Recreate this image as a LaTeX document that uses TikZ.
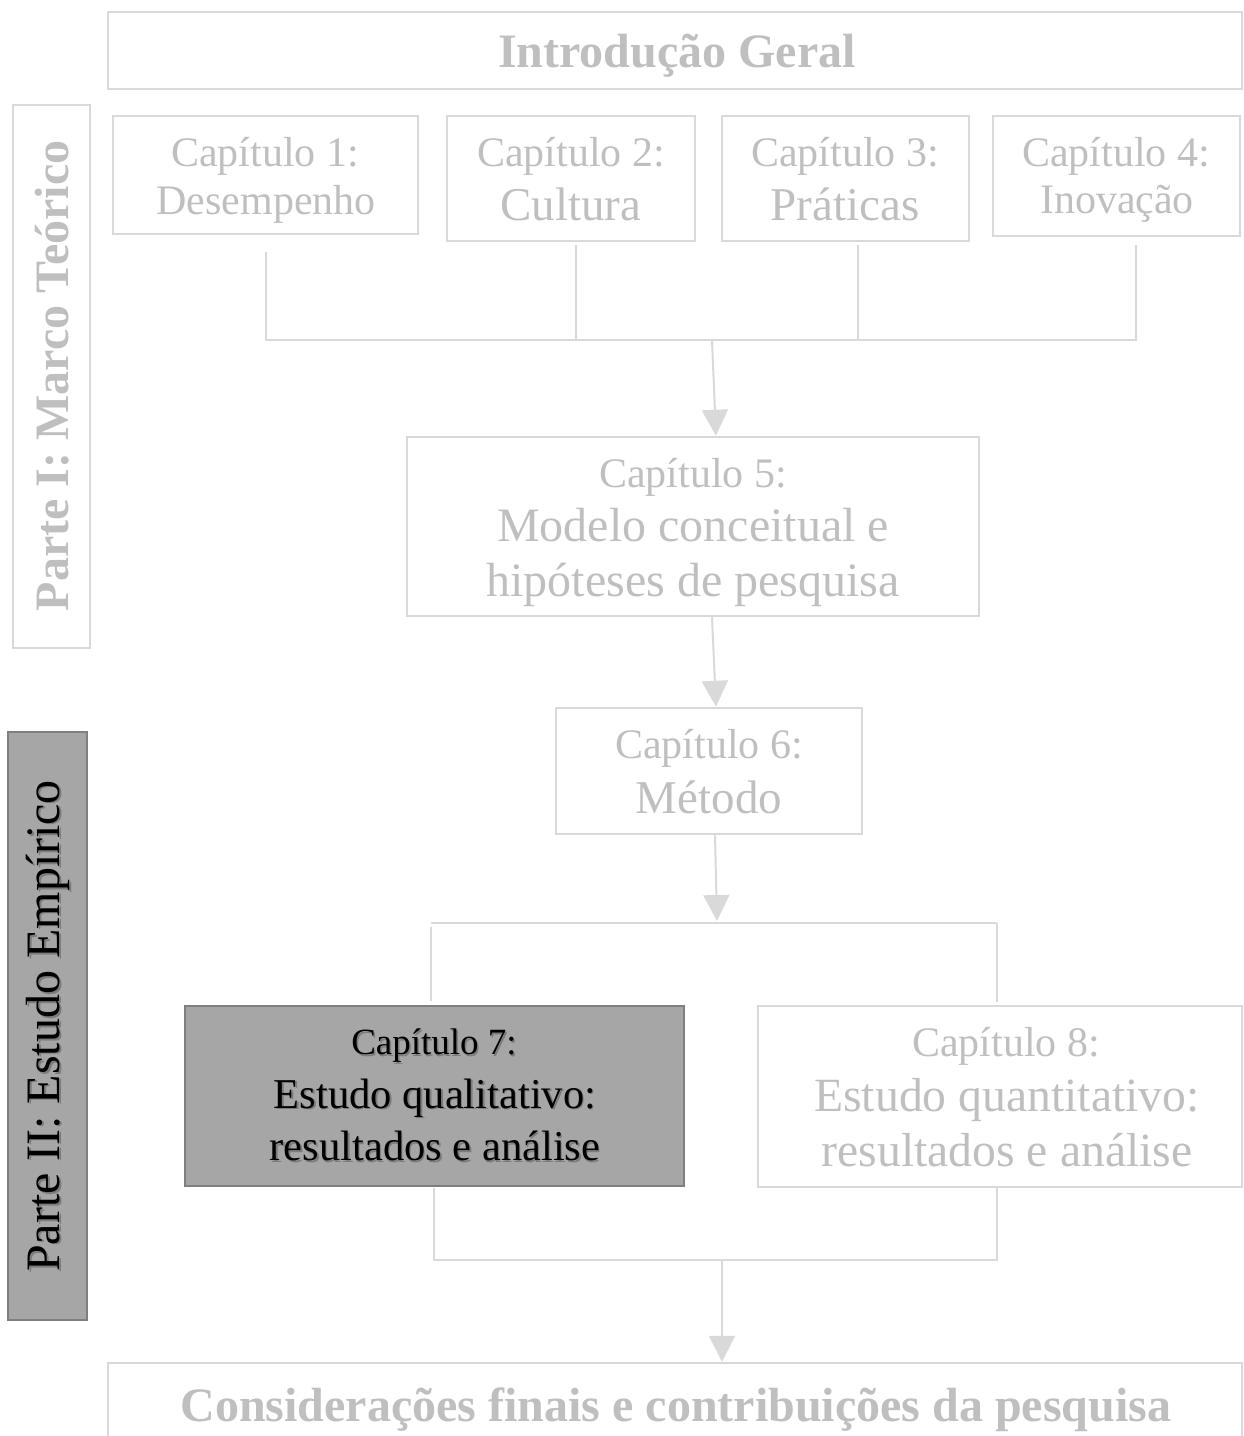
\documentclass[tikz,border=0pt]{standalone}
\usepackage{fontspec}
\setmainfont{Liberation Serif}
\usetikzlibrary{arrows.meta,calc}
\definecolor{txtgray}{HTML}{BFBFBF}
\definecolor{linegray}{HTML}{D9D9D9}
\definecolor{darkfill}{HTML}{A6A6A6}
\definecolor{darkline}{HTML}{7F7F7F}
\definecolor{shadowgray}{HTML}{5A5A5A}

\newcommand{\fs}[1]{\fontsize{#1}{#1}\selectfont}

\begin{document}
\begin{tikzpicture}[x=1pt,y=-1pt,
  lightbox/.style={draw=linegray, line width=2.5pt, inner sep=0pt},
  darkbox/.style={draw=darkline, fill=darkfill, line width=2.5pt, inner sep=0pt},
  txt/.style={text=txtgray, inner sep=0pt, anchor=center},
  dtxt/.style={text=black, inner sep=0pt, anchor=center},
  shd/.style={text=shadowgray, opacity=0.55, inner sep=0pt, anchor=center},
  link/.style={draw=linegray, line width=2pt},
  arr/.style={link, -{Triangle[width=26pt,length=26pt]}},
]
\useasboundingbox (0,0) rectangle (1244,1436);

% ---------- boxes ----------
\node[lightbox, minimum width=1134pt, minimum height=77pt] (intro) at (675,50.5) {};
\node[lightbox, minimum width=77pt, minimum height=543pt] (p1) at (51.5,376.5) {};
\node[lightbox, minimum width=305pt, minimum height=118pt] (c1) at (265.5,175) {};
\node[lightbox, minimum width=248pt, minimum height=125pt] (c2) at (571,178.5) {};
\node[lightbox, minimum width=247pt, minimum height=125pt] (c3) at (845.5,178.5) {};
\node[lightbox, minimum width=247pt, minimum height=120pt] (c4) at (1116.5,176) {};
\node[lightbox, minimum width=572pt, minimum height=179pt] (c5) at (693,526.5) {};
\node[lightbox, minimum width=306pt, minimum height=126pt] (c6) at (709,771) {};
\node[darkbox, minimum width=79pt, minimum height=588pt] (p2) at (47.5,1026) {};
\node[darkbox, minimum width=499pt, minimum height=180pt] (c7) at (434.5,1096) {};
\node[lightbox, minimum width=484pt, minimum height=181pt] (c8) at (1000,1096.5) {};
\node[lightbox, minimum width=1134pt, minimum height=87pt] (fin) at (675,1406.5) {};

% ---------- texts ----------
\node[txt, font=\bfseries\fs{48}] (introT) at (677,56) {Introdução Geral};
\node[txt, font=\bfseries\fs{48}, rotate=90] (p1T) at (52,376) {Parte I: Marco Teórico};

\node[txt, font=\fs{42}] (c1a) at (265,156) {Capítulo 1:};
\node[txt, font=\fs{42}] (c1b) at (266,204) {Desempenho};
\node[txt, font=\fs{42}] (c2a) at (571,156) {Capítulo 2:};
\node[txt, font=\fs{47}] (c2b) at (571,204) {Cultura};
\node[txt, font=\fs{42}] (c3a) at (845,156) {Capítulo 3:};
\node[txt, font=\fs{47}] (c3b) at (845,204) {Práticas};
\node[txt, font=\fs{42}] (c4a) at (1116,156) {Capítulo 4:};
\node[txt, font=\fs{42}] (c4b) at (1117,204) {Inovação};

\node[txt, font=\fs{42}] (c5a) at (693,477) {Capítulo 5:};
\node[txt, font=\fs{48}] (c5b) at (693,525) {Modelo conceitual e};
\node[txt, font=\fs{48}] (c5c) at (693,585) {hipóteses de pesquisa};

\node[txt, font=\fs{42}] (c6a) at (709,748) {Capítulo 6:};
\node[txt, font=\fs{47}] (c6b) at (709,797) {Método};

% shadowed black text on the dark boxes
\node[shd, font=\fs{48}, rotate=90] (p2S) at (49.5,1027.5) {Parte II: Estudo Empírico};
\node[dtxt, font=\fs{48}, rotate=90] (p2T) at (48,1026) {Parte II: Estudo Empírico};

\node[shd, font=\fs{37}] (c7aS) at (435.5,1047.5) {Capítulo 7:};
\node[shd, font=\fs{42.5}] (c7bS) at (436.5,1099.5) {Estudo qualitativo:};
\node[shd, font=\fs{42.5}] (c7cS) at (436.5,1147.5) {resultados e análise};
\node[dtxt, font=\fs{37}] (c7a) at (434,1046) {Capítulo 7:};
\node[dtxt, font=\fs{42.5}] (c7b) at (435,1098) {Estudo qualitativo:};
\node[dtxt, font=\fs{42.5}] (c7c) at (435,1146) {resultados e análise};

\node[txt, font=\fs{42}] (c8a) at (1006,1046) {Capítulo 8:};
\node[txt, font=\fs{47.7}] (c8b) at (1007,1100) {Estudo quantitativo:};
\node[txt, font=\fs{47.7}] (c8c) at (1007,1150) {resultados e análise};

\node[txt, font=\bfseries\fs{48}] (finT) at (676,1410) {Considerações finais e contribuições da pesquisa};

% ---------- connectors: part I ----------
\coordinate (t1) at (266,252);
\coordinate (t2) at (576,245);
\coordinate (t3) at (858,245);
\coordinate (t4) at (1136,245);
\coordinate (b1) at (266,340);
\coordinate (b2) at (576,340);
\coordinate (b3) at (858,340);
\coordinate (b4) at (1136,340);
\coordinate (j1) at (712,340);
\draw[link] (t1) -- (b1) -- (b4) -- (t4);
\draw[link] (t2) -- (b2);
\draw[link] (t3) -- (b3);
\draw[arr] (j1) -- ($(c5.north)+(23,0)$);
\draw[arr] ($(c5.south)+(19,0)$) -- ($(c6.north)+(7,0)$);

% ---------- connectors: part II ----------
\coordinate (j2) at (717,921);
\draw[arr] ($(c6.south)+(6,0)$) -- (j2);
\coordinate (s1) at (431,923);
\coordinate (s2) at (997,923);
\coordinate (s1u) at (431,927);
\coordinate (s1d) at (431,1001);
\coordinate (s2d) at (997,1002);
\draw[link] (s1) -- (s2);
\draw[link] (s1u) -- (s1d);
\draw[link] (s2) -- (s2d);

\coordinate (u1) at (434,1188);
\coordinate (u2) at (997,1188);
\coordinate (v1) at (434,1260);
\coordinate (v2) at (997,1260);
\coordinate (j3) at (722,1260);
\draw[link] (u1) -- (v1) -- (v2) -- (u2);
\draw[arr] (j3) -- (fin.north -| j3);
\end{tikzpicture}
\end{document}
